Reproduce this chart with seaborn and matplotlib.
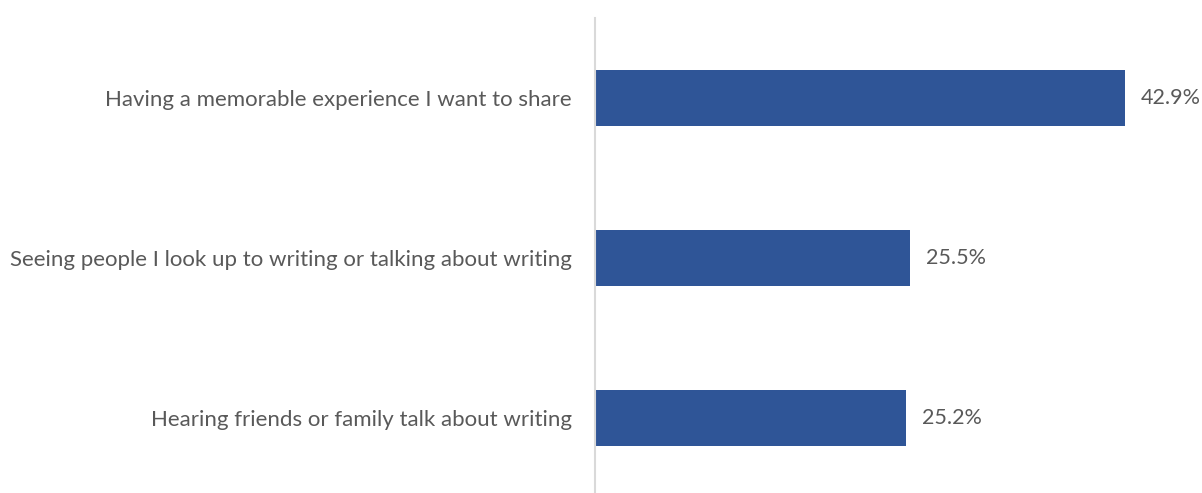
import matplotlib
matplotlib.use("Agg")
import matplotlib.pyplot as plt
import seaborn as sns
import pandas as pd

categories = [
    "Having a memorable experience I want to share",
    "Seeing people I look up to writing or talking about writing",
    "Hearing friends or family talk about writing",
]
values = [42.9, 25.5, 25.2]

sns.set_style("white")
plt.rcParams["font.family"] = ["Lato", "DejaVu Sans"]

df = pd.DataFrame({"reason": categories, "share": values})

fig = plt.figure(figsize=(12.02, 4.93), dpi=100)
ax = fig.add_axes([595 / 1202, 0.0, 1 - 595 / 1202, 1 - 18 / 493])

sns.barplot(data=df, x="share", y="reason", orient="h", color="#2F5597",
            saturation=1, width=0.35, linewidth=0, ax=ax)

ax.set_xlim(0, 607 / 12.354)
ax.set_ylim(2 + 75 / 160, -0.5)

for cont in ax.containers:
    ax.bar_label(cont, labels=[f"{v:.1f}%" for v in values], padding=11.5,
                 fontsize=15.5, color="#595959")

ax.set_xlabel("")
ax.set_ylabel("")
ax.set_xticks([])
ax.tick_params(axis="y", length=0, pad=16.5, labelsize=16, labelcolor="#595959")
for side in ["top", "right", "bottom"]:
    ax.spines[side].set_visible(False)
ax.spines["left"].set_color("#d9d9d9")
ax.spines["left"].set_linewidth(1.5)

fig.savefig("out.png", dpi=100)
